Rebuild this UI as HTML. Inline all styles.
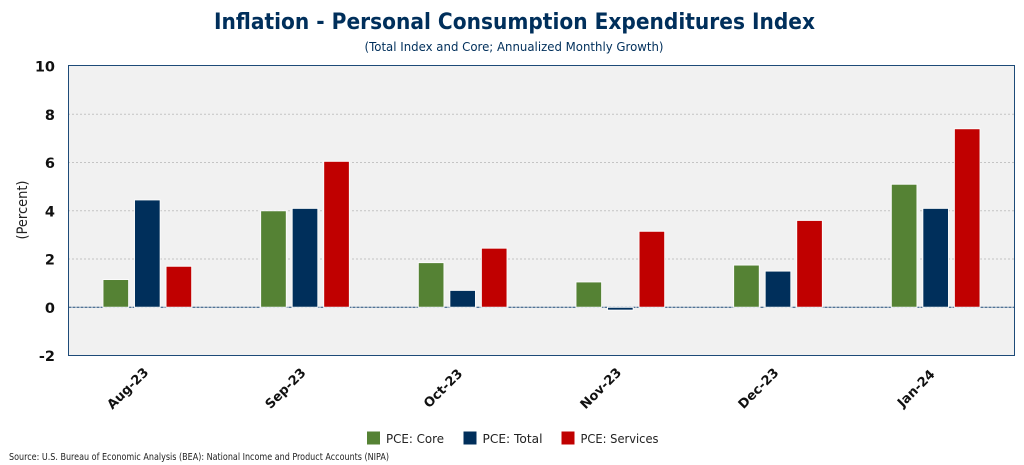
<!DOCTYPE html>
<html>
<head>
<meta charset="utf-8">
<title>Inflation - Personal Consumption Expenditures Index</title>
<style>
html,body{margin:0;padding:0;background:#fff;}
body{width:1024px;height:465px;overflow:hidden;}
svg{display:block;}
text{font-family:"DejaVu Sans","Liberation Sans",sans-serif;}
</style>
</head>
<body>
<svg id="chart" width="1024" height="465" viewBox="0 0 1024 465" xmlns="http://www.w3.org/2000/svg">
  <text x="514.5" y="29" text-anchor="middle" font-size="22" font-weight="700" fill="#002f5b" textLength="601" lengthAdjust="spacingAndGlyphs">Inflation - Personal Consumption Expenditures Index</text>
  <text x="514" y="51" text-anchor="middle" font-size="12.5" fill="#002f5b" textLength="299" lengthAdjust="spacingAndGlyphs">(Total Index and Core; Annualized Monthly Growth)</text>
  <rect x="68.5" y="65.5" width="946" height="290" fill="#f1f1f1"/>
  <g id="grid"></g>
  <g id="bars"></g>
  <rect x="68.5" y="65.5" width="946" height="290" fill="none" stroke="#1d4a78" stroke-width="1"/>
  <g id="yticks"></g>
  <g id="xticks"></g>
  <text transform="translate(27,210) rotate(-90)" text-anchor="middle" font-size="14" fill="#222" textLength="59" lengthAdjust="spacingAndGlyphs">(Percent)</text>
  <g id="legend"></g>
  <text x="9" y="460" font-size="9.5" fill="#222" textLength="380" lengthAdjust="spacingAndGlyphs">Source: U.S. Bureau of Economic Analysis (BEA): National Income and Product Accounts (NIPA)</text>
</svg>
<script>
const categories = ['Aug-23', 'Sep-23', 'Oct-23', 'Nov-23', 'Dec-23', 'Jan-24'];
const coreValues = [1.15, 4.0, 1.85, 1.05, 1.75, 5.1];
const totalValues = [4.45, 4.1, 0.7, -0.12, 1.5, 4.1];
const servicesValues = [1.7, 6.05, 2.45, 3.15, 3.6, 7.4];
const yTicks = [-2, 0, 2, 4, 6, 8, 10];
const seriesNames = ['PCE: Core', 'PCE: Total', 'PCE: Services'];

const NS = 'http://www.w3.org/2000/svg';
const plot = { left: 68.5, right: 1014.5, top: 66, bottom: 355.5 };
const yMin = -2, yMax = 10;
const colors = ['#558234', '#002f5b', '#c00000'];
const allSeries = [coreValues, totalValues, servicesValues];
const slugs = ['core', 'total', 'services'];

function yScale(v) {
  return plot.bottom - (v - yMin) / (yMax - yMin) * (plot.bottom - plot.top);
}
function band() {
  return (plot.right - plot.left) / categories.length;
}
function xCenter(i) {
  return plot.left + band() * (i + 0.5);
}
function make(tag, attrs, parent) {
  const el = document.createElementNS(NS, tag);
  for (const k in attrs) el.setAttribute(k, attrs[k]);
  parent.appendChild(el);
  return el;
}

const grid = document.getElementById('grid');
const yticksG = document.getElementById('yticks');
yTicks.forEach(function (t) {
  const y = yScale(t);
  if (t !== yMin && t !== yMax) {
    const line = make('line', { x1: plot.left, x2: plot.right, y1: y, y2: y, stroke: t === 0 ? '#1d4a78' : '#969696', 'stroke-width': 1, 'stroke-dasharray': t === 0 ? '3 1' : '1 3' }, grid);
    
    
  }
  const label = make('text', { x: 55, y: y + 5.5, 'text-anchor': 'end', 'font-size': 14.5, 'font-weight': 700, fill: '#111' }, yticksG);
  
  
  label.textContent = t;
});

const barsG = document.getElementById('bars');
const barStep = band() * 0.2;
const barWidth = band() * 0.163;
allSeries.forEach(function (values, s) {
  values.forEach(function (v, i) {
    const cx = xCenter(i) + (s - 1) * barStep;
    const y0 = yScale(0), y1 = yScale(v);
    const bar = make('rect', { x: cx - barWidth / 2, y: Math.min(y0, y1), width: barWidth, height: Math.abs(y1 - y0), fill: colors[s], stroke: '#fbfbfb', 'stroke-width': 1 }, barsG);
    
    
  });
});

const xticksG = document.getElementById('xticks');
categories.forEach(function (c, i) {
  const x = xCenter(i) - 19;
  const y = 389;
  const label = make('text', { x: x, y: y, 'text-anchor': 'middle', 'dominant-baseline': 'middle', 'font-size': 13, 'font-weight': 700, fill: '#111', transform: 'rotate(-45 ' + x + ' ' + y + ')' }, xticksG);
  
  
  label.textContent = c;
});

const legendG = document.getElementById('legend');
const legendSwatchX = [367, 463.5, 561.5];
const legendTextWidth = [58, 60, 78];
seriesNames.forEach(function (name, s) {
  const swatch = make('rect', { x: legendSwatchX[s], y: 431.5, width: 13, height: 13, fill: colors[s] }, legendG);
  
  
  const label = make('text', { x: legendSwatchX[s] + 19, y: 443, 'font-size': 12.5, fill: '#222', textLength: legendTextWidth[s], lengthAdjust: 'spacingAndGlyphs' }, legendG);
  
  
  label.textContent = name;
});
</script>
</body>
</html>
